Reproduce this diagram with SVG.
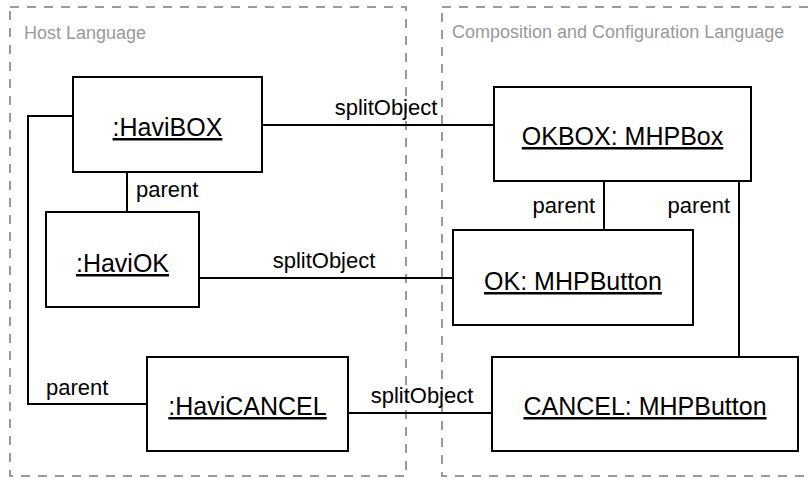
<svg xmlns="http://www.w3.org/2000/svg" width="811" height="479" viewBox="0 0 811 479">
<style>
.frame{fill:none;stroke:#9a9a9a;stroke-width:2;stroke-dasharray:9 8}
.ftxt{font-family:"Liberation Sans",Arial,sans-serif;font-size:18px;fill:#999}
.box{fill:#fff;stroke:#000;stroke-width:2}
.ntxt{font-family:"Liberation Sans",Arial,sans-serif;font-size:25px;fill:#000;text-anchor:middle;text-decoration:underline}
.ln{fill:none;stroke:#000;stroke-width:2}
.ltxt{font-family:"Liberation Sans",Arial,sans-serif;font-size:22px;fill:#000}
</style>
<rect width="811" height="479" fill="#fff"/>
<g id="frames">
<rect class="frame" x="10" y="7" width="396" height="469"/>
<rect class="frame" x="442" y="7" width="380" height="469"/>
<text class="ftxt" x="24" y="39">Host Language</text>
<text class="ftxt" x="452" y="38">Composition and Configuration Language</text>
</g>
<g id="connectors">
<line class="ln" x1="262" y1="125" x2="494" y2="125"/>
<text class="ltxt" x="386" y="115" text-anchor="middle">splitObject</text>
<line class="ln" x1="127" y1="172" x2="127" y2="212"/>
<text class="ltxt" x="136" y="197">parent</text>
<polyline class="ln" points="73,116 28,116 28,404 147,404"/>
<text class="ltxt" x="46" y="395">parent</text>
<line class="ln" x1="199" y1="278" x2="453" y2="278"/>
<text class="ltxt" x="324" y="268" text-anchor="middle">splitObject</text>
<line class="ln" x1="348" y1="413" x2="492" y2="413"/>
<text class="ltxt" x="422" y="403" text-anchor="middle">splitObject</text>
<line class="ln" x1="604" y1="181" x2="604" y2="230"/>
<text class="ltxt" x="595" y="213" text-anchor="end">parent</text>
<line class="ln" x1="739" y1="181" x2="739" y2="357"/>
<text class="ltxt" x="730" y="213" text-anchor="end">parent</text>
</g>
<g id="haviBOX">
<rect class="box" x="73" y="77" width="189" height="95"/>
<text class="ntxt" x="167.5" y="136">:HaviBOX</text>
</g>
<g id="haviOK">
<rect class="box" x="46" y="212" width="153" height="95"/>
<text class="ntxt" x="122.5" y="272">:HaviOK</text>
</g>
<g id="haviCANCEL">
<rect class="box" x="147" y="357" width="201" height="94"/>
<text class="ntxt" x="247.5" y="415">:HaviCANCEL</text>
</g>
<g id="okbox">
<rect class="box" x="494" y="87" width="257" height="94"/>
<text class="ntxt" x="622.5" y="145">OKBOX: MHPBox</text>
</g>
<g id="okButton">
<rect class="box" x="453" y="230" width="240" height="95"/>
<text class="ntxt" x="573" y="290">OK: MHPButton</text>
</g>
<g id="cancelButton">
<rect class="box" x="492" y="357" width="306" height="94"/>
<text class="ntxt" x="645" y="415">CANCEL: MHPButton</text>
</g>
</svg>
